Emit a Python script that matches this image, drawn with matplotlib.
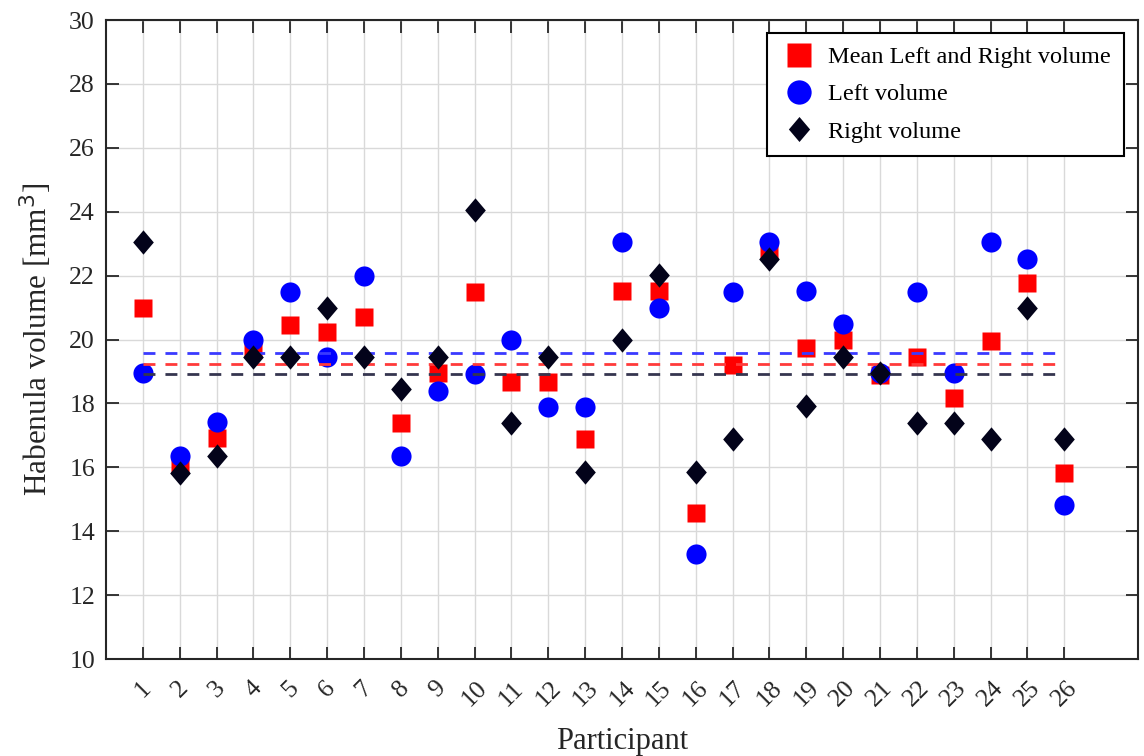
import numpy as np
import matplotlib.pyplot as plt
from matplotlib.path import Path

# volumes per participant (mm^3)
participants = np.arange(1, 27)
mean_vol = [20.98, 16.07, 16.91, 19.69, 20.45, 20.22, 20.71, 17.38, 18.94, 21.50,
            18.68, 18.68, 16.89, 21.52, 21.52, 14.57, 19.20, 22.80, 19.72, 19.98,
            18.90, 19.44, 18.16, 19.96, 21.78, 15.83]
left_vol = [18.94, 16.36, 17.43, 19.98, 21.50, 19.46, 21.99, 16.36, 18.40, 18.92,
            19.98, 17.90, 17.90, 23.04, 20.98, 13.29, 21.50, 23.04, 21.52, 20.49,
            18.95, 21.50, 18.94, 23.04, 22.52, 14.82]
right_vol = [23.06, 15.81, 16.36, 19.46, 19.46, 20.98, 19.46, 18.44, 19.46, 24.05,
             17.38, 19.46, 15.84, 19.98, 22.02, 15.84, 16.89, 22.51, 17.92, 19.46,
             18.95, 17.38, 17.38, 16.89, 20.98, 16.89]

plt.rcParams['font.family'] = ['Liberation Serif', 'DejaVu Serif']
txt = '#262626'

# MATLAB-like diamond (taller than wide)
diamond = Path([(0, 1), (0.85, 0), (0, -1), (-0.85, 0), (0, 1)],
               [Path.MOVETO, Path.LINETO, Path.LINETO, Path.LINETO, Path.CLOSEPOLY])

fig = plt.figure(figsize=(11.44, 7.56), dpi=100)
ax = fig.add_axes([0.0927, 0.1283, 0.9021, 0.8452])

ax.plot(participants, mean_vol, 's', color='#ff0000', ms=12.5, mec='none',
        label='Mean Left and Right volume', zorder=3)
ax.plot(participants, left_vol, 'o', color='#0000ff', ms=14.5, mec='none',
        label='Left volume', zorder=4)
ax.plot(participants, right_vol, ls='none', marker=diamond, color='#03031a', ms=17.5,
        mec='none', label='Right volume', zorder=6)

# mean lines (over the squares/circles, under the diamonds)
x0, x1 = participants[0], participants[-1]
dash = dict(ls='--', lw=2, dashes=(4.3, 3.6), zorder=5)
ax.plot([x0, x1], [np.mean(left_vol)] * 2, color='#3a3aff', **dash)
ax.plot([x0, x1], [np.mean(mean_vol)] * 2, color='#ff3a3a', **dash)
ax.plot([x0, x1], [np.mean(right_vol)] * 2, color='#35354f', **dash)

ax.set_xlim(0, 28)
ax.set_ylim(10, 30)
ax.set_xticks(participants)
ax.set_xticklabels([str(p) for p in participants], rotation=45, ha='center', va='top')
ax.set_yticks(np.arange(10, 31, 2))
ax.grid(True, color='#d9d9d9', lw=1)
ax.set_axisbelow(True)
ax.tick_params(direction='in', length=9, width=1.3, colors=txt, labelsize=18.5,
               top=True, right=True)
ax.tick_params(axis='x', pad=13)
ax.tick_params(axis='y', pad=8)
for s in ax.spines.values():
    s.set_color(txt)
    s.set_linewidth(1.5)

ax.set_xlabel('Participant', fontsize=22, color=txt, labelpad=12)
ax.set_ylabel('Habenula volume [mm$^3$]', fontsize=22.5, color=txt, labelpad=11)

leg = ax.legend(loc='upper right', fontsize=17.5, fancybox=False, framealpha=1,
                edgecolor='black', borderpad=0.55, handletextpad=0.45, labelspacing=0.62,
                handlelength=1.5, borderaxespad=0, bbox_to_anchor=(0.9864, 0.9797))
leg.set_zorder(10)
leg.get_frame().set_linewidth(1.5)
for h, ms in zip(leg.legend_handles, [17, 17.5, 18]):
    h.set_markersize(ms)

fig.savefig('out.png', dpi=100)
